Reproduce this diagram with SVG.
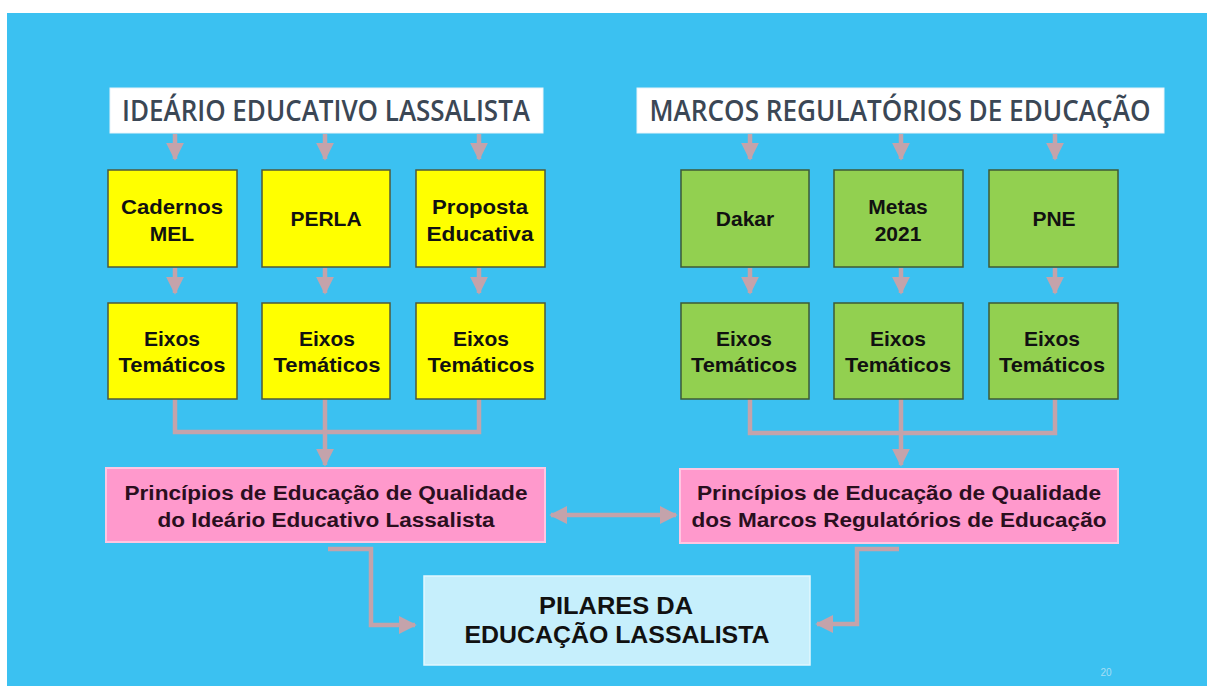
<svg xmlns="http://www.w3.org/2000/svg" width="1207" height="686" viewBox="0 0 1207 686">
<defs>
<style>
.title{font-family:"Open Sans","Liberation Sans",sans-serif;font-size:28px;font-weight:600;fill:#3b4755;text-anchor:middle}
.bx{font-family:"Liberation Sans",Arial,sans-serif;font-weight:bold;font-size:21px;fill:#111;text-anchor:middle}
.pk{font-family:"Liberation Sans",Arial,sans-serif;font-weight:bold;font-size:19.5px;fill:#2a0f1e;text-anchor:middle}
.pl{font-family:"Liberation Sans",Arial,sans-serif;font-weight:bold;font-size:24px;fill:#111;text-anchor:middle}
.y{fill:#ffff00;stroke:#4f5a3a;stroke-width:1.5}
.g{fill:#92d050;stroke:#3e5a36;stroke-width:1.5}
.p{fill:#ff99cc;stroke:#ffc6e2;stroke-width:2}
.w{fill:#ffffff;stroke:#e8f4fa;stroke-width:1}
.c{fill:none;stroke:#c4a3ab;stroke-width:4.5}
</style>
<marker id="ah" markerWidth="4" markerHeight="4" refX="3.6" refY="2" orient="auto" markerUnits="strokeWidth">
<path d="M0,0 L4,2 L0,4 Z" fill="#c4a3ab"/>
</marker>
<marker id="as" markerWidth="4" markerHeight="4" refX="0.4" refY="2" orient="auto" markerUnits="strokeWidth">
<path d="M4,0 L0,2 L4,4 Z" fill="#c4a3ab"/>
</marker>
</defs>
<rect x="0" y="0" width="1207" height="686" fill="#ffffff"/>
<rect x="7" y="13" width="1200" height="673" fill="#3bc1f1"/>

<g id="connectors">
<line class="c" x1="175" y1="134" x2="175" y2="159" marker-end="url(#ah)"/>
<line class="c" x1="325" y1="134" x2="325" y2="159" marker-end="url(#ah)"/>
<line class="c" x1="479" y1="134" x2="479" y2="159" marker-end="url(#ah)"/>
<line class="c" x1="750" y1="134" x2="750" y2="159" marker-end="url(#ah)"/>
<line class="c" x1="901" y1="134" x2="901" y2="159" marker-end="url(#ah)"/>
<line class="c" x1="1055" y1="134" x2="1055" y2="159" marker-end="url(#ah)"/>
<line class="c" x1="175" y1="268" x2="175" y2="293" marker-end="url(#ah)"/>
<line class="c" x1="325" y1="268" x2="325" y2="293" marker-end="url(#ah)"/>
<line class="c" x1="479" y1="268" x2="479" y2="293" marker-end="url(#ah)"/>
<line class="c" x1="750" y1="268" x2="750" y2="293" marker-end="url(#ah)"/>
<line class="c" x1="901" y1="268" x2="901" y2="293" marker-end="url(#ah)"/>
<line class="c" x1="1055" y1="268" x2="1055" y2="293" marker-end="url(#ah)"/>
<path class="c" d="M175,399 V432 H479 V399"/>
<line class="c" x1="325" y1="399" x2="325" y2="465" marker-end="url(#ah)"/>
<path class="c" d="M750,399 V433 H1055 V399"/>
<line class="c" x1="901" y1="399" x2="901" y2="465" marker-end="url(#ah)"/>
<line class="c" x1="551" y1="515" x2="676" y2="515" marker-start="url(#as)" marker-end="url(#ah)"/>
<path class="c" d="M328,549 H371 V625 H415" marker-end="url(#ah)"/>
<path class="c" d="M899,549 H857 V624 H817" marker-end="url(#ah)"/>
</g>

<g id="title-ideario">
<rect class="w" x="110" y="88" width="433" height="45"/>
<text class="title" x="326" y="121" textLength="408" lengthAdjust="spacingAndGlyphs">IDEÁRIO EDUCATIVO LASSALISTA</text>
</g>
<g id="title-marcos">
<rect class="w" x="637" y="88" width="527" height="45"/>
<text class="title" x="900" y="121" textLength="501" lengthAdjust="spacingAndGlyphs">MARCOS REGULATÓRIOS DE EDUCAÇÃO</text>
</g>

<g id="cadernos">
<rect class="y" x="108" y="170" width="129" height="97"/>
<text class="bx" x="172" y="214" textLength="102" lengthAdjust="spacingAndGlyphs">Cadernos</text>
<text class="bx" x="172" y="241">MEL</text>
</g>
<g id="perla">
<rect class="y" x="262" y="170" width="128" height="97"/>
<text class="bx" x="326" y="226">PERLA</text>
</g>
<g id="proposta">
<rect class="y" x="416" y="170" width="129" height="97"/>
<text class="bx" x="480" y="214" textLength="96" lengthAdjust="spacingAndGlyphs">Proposta</text>
<text class="bx" x="480" y="241" textLength="107" lengthAdjust="spacingAndGlyphs">Educativa</text>
</g>
<g id="dakar">
<rect class="g" x="681" y="170" width="128" height="97"/>
<text class="bx" x="745" y="226">Dakar</text>
</g>
<g id="metas">
<rect class="g" x="834" y="170" width="129" height="97"/>
<text class="bx" x="898" y="214">Metas</text>
<text class="bx" x="898" y="241">2021</text>
</g>
<g id="pne">
<rect class="g" x="989" y="170" width="129" height="97"/>
<text class="bx" x="1054" y="226">PNE</text>
</g>

<g id="eixos-1">
<rect class="y" x="108" y="303" width="129" height="96"/>
<text class="bx" x="172" y="346">Eixos</text>
<text class="bx" x="172" y="372" textLength="107" lengthAdjust="spacingAndGlyphs">Temáticos</text>
</g>
<g id="eixos-2">
<rect class="y" x="262" y="303" width="128" height="96"/>
<text class="bx" x="327" y="346">Eixos</text>
<text class="bx" x="327" y="372" textLength="107" lengthAdjust="spacingAndGlyphs">Temáticos</text>
</g>
<g id="eixos-3">
<rect class="y" x="416" y="303" width="129" height="96"/>
<text class="bx" x="481" y="346">Eixos</text>
<text class="bx" x="481" y="372" textLength="107" lengthAdjust="spacingAndGlyphs">Temáticos</text>
</g>
<g id="eixos-4">
<rect class="g" x="681" y="303" width="128" height="96"/>
<text class="bx" x="744" y="346">Eixos</text>
<text class="bx" x="744" y="372" textLength="106" lengthAdjust="spacingAndGlyphs">Temáticos</text>
</g>
<g id="eixos-5">
<rect class="g" x="834" y="303" width="129" height="96"/>
<text class="bx" x="898" y="346">Eixos</text>
<text class="bx" x="898" y="372" textLength="106" lengthAdjust="spacingAndGlyphs">Temáticos</text>
</g>
<g id="eixos-6">
<rect class="g" x="989" y="303" width="129" height="96"/>
<text class="bx" x="1052" y="346">Eixos</text>
<text class="bx" x="1052" y="372" textLength="106" lengthAdjust="spacingAndGlyphs">Temáticos</text>
</g>

<g id="principios-ideario">
<rect class="p" x="106" y="468" width="439" height="74"/>
<text class="pk" x="326" y="500" textLength="403" lengthAdjust="spacingAndGlyphs">Princípios de Educação de Qualidade</text>
<text class="pk" x="326" y="527" textLength="337" lengthAdjust="spacingAndGlyphs">do Ideário Educativo Lassalista</text>
</g>
<g id="principios-marcos">
<rect class="p" x="680" y="469" width="438" height="74"/>
<text class="pk" x="899" y="500" textLength="404" lengthAdjust="spacingAndGlyphs">Princípios de Educação de Qualidade</text>
<text class="pk" x="899" y="527" textLength="415" lengthAdjust="spacingAndGlyphs">dos Marcos Regulatórios de Educação</text>
</g>

<g id="pilares">
<rect x="424" y="576" width="386" height="89" fill="#c6effc" stroke="#e2f7fe" stroke-width="1.5"/>
<text class="pl" x="616" y="614" textLength="154" lengthAdjust="spacingAndGlyphs">PILARES DA</text>
<text class="pl" x="617" y="643" textLength="305" lengthAdjust="spacingAndGlyphs">EDUCAÇÃO LASSALISTA</text>
</g>

<text x="1106" y="676" font-family="Liberation Sans, Arial, sans-serif" font-size="10" fill="#a6def4" text-anchor="middle">20</text>
</svg>
